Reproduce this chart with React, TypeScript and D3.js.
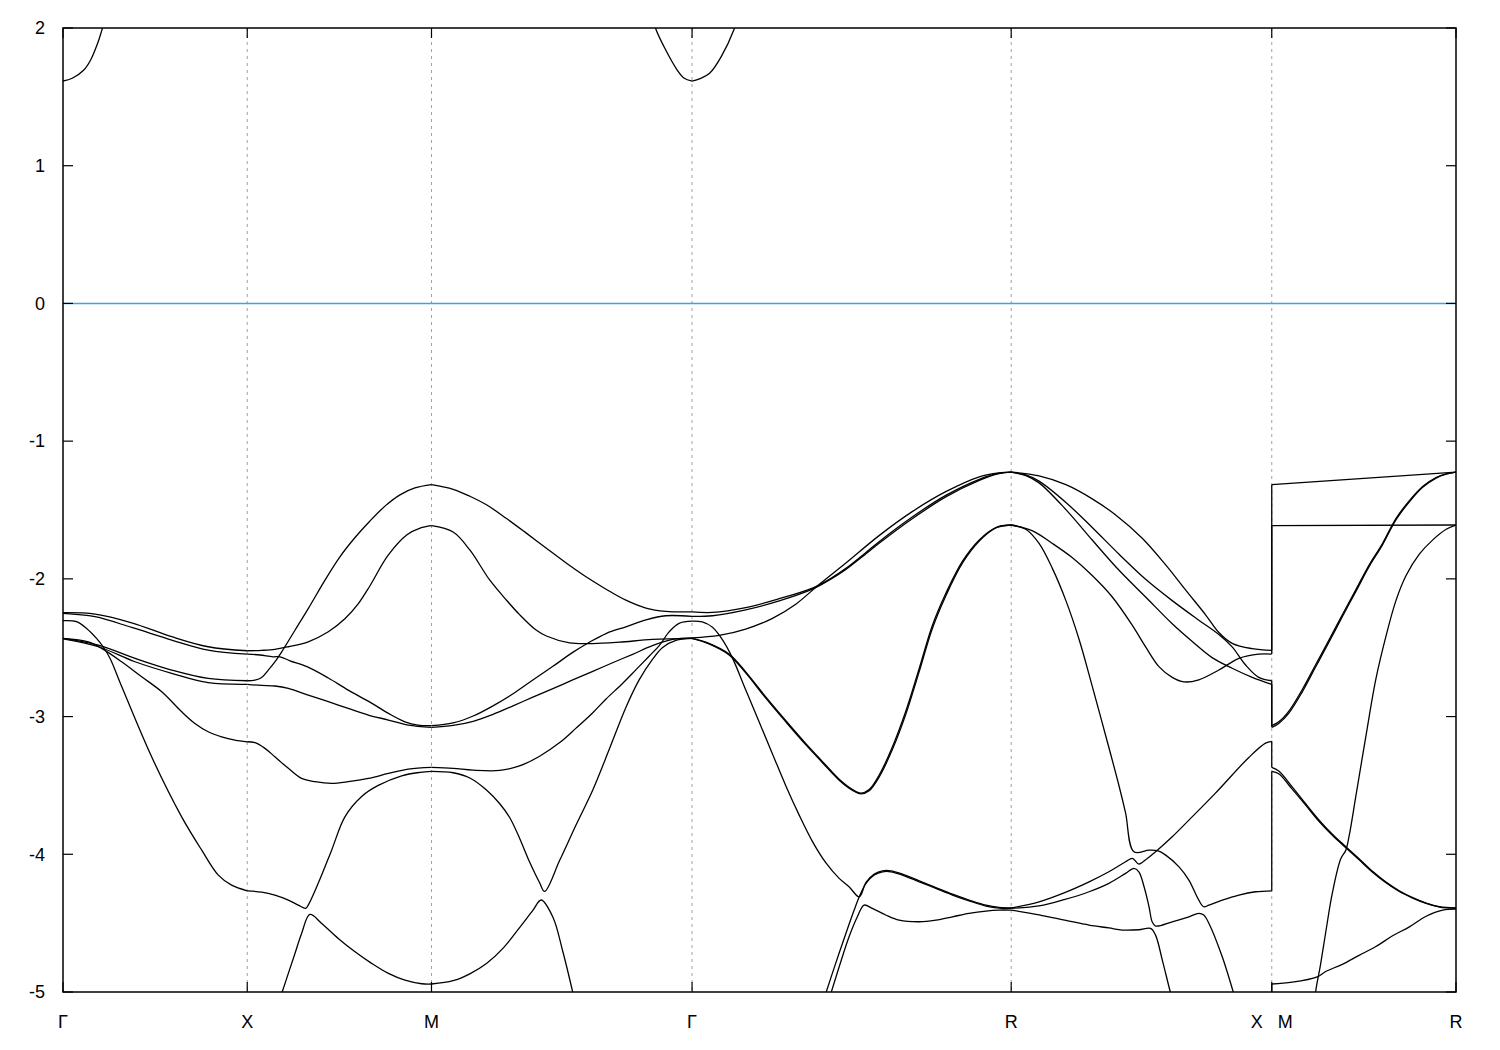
import React from 'react';
import * as d3 from 'd3';

// k-path positions of the high-symmetry points (Γ X M Γ R X|M R)
const kTicks = [0, 1, 2, 2 + Math.SQRT2, 2 + Math.SQRT2 + Math.sqrt(3), 2 + 2 * Math.SQRT2 + Math.sqrt(3), 3 + 2 * Math.SQRT2 + Math.sqrt(3)];
const kLabels = ['Γ', 'X', 'M', 'Γ', 'R', 'X   M', 'R'];
const yTicks = [2, 1, 0, -1, -2, -3, -4, -5];

// Each segment: list of bands, each band = [fraction along segment, energy (eV)]
const bandsGX = [
  [[0, -2.246], [0.174, -2.256], [0.373, -2.319], [0.59, -2.42], [0.788, -2.493], [1, -2.522]],
  [[0, -2.251], [0.174, -2.275], [0.373, -2.353], [0.59, -2.444], [0.788, -2.517], [1, -2.546]],
  [[0, -2.304], [0.073, -2.311], [0.128, -2.36], [0.182, -2.432], [0.218, -2.493], [0.255, -2.577], [0.318, -2.78], [0.481, -3.292], [0.644, -3.728], [0.753, -3.97], [0.843, -4.151], [0.915, -4.224], [1, -4.265]],
  [[0, -2.432], [0.137, -2.457], [0.21, -2.505], [0.318, -2.602], [0.427, -2.711], [0.536, -2.82], [0.644, -2.965], [0.716, -3.05], [0.788, -3.11], [0.861, -3.147], [0.933, -3.171], [1, -3.183]],
  [[0, -2.432], [0.192, -2.481], [0.391, -2.577], [0.59, -2.662], [0.788, -2.723], [1, -2.74]],
  [[0, -2.436], [0.192, -2.493], [0.391, -2.602], [0.59, -2.686], [0.788, -2.754], [1, -2.766]],
  [[0, 1.615], [0.05, 1.635], [0.113, 1.695], [0.15, 1.768], [0.188, 1.889], [0.213, 1.993], [0.225, 2.04]],
];

const bandsXM = [
  [[0, -2.522], [0.078, -2.519], [0.15, -2.512], [0.223, -2.493], [0.331, -2.457], [0.44, -2.384], [0.53, -2.29], [0.603, -2.18], [0.666, -2.05], [0.764, -1.83], [0.867, -1.68], [0.938, -1.632], [1, -1.614]],
  [[0, -2.74], [0.042, -2.735], [0.078, -2.716], [0.114, -2.663], [0.15, -2.603], [0.187, -2.53], [0.259, -2.373], [0.331, -2.216], [0.422, -2.009], [0.503, -1.84], [0.585, -1.7], [0.666, -1.58], [0.749, -1.47], [0.829, -1.39], [0.91, -1.34], [1, -1.316]],
  [[0, -2.546], [0.069, -2.553], [0.14, -2.566], [0.178, -2.566], [0.232, -2.595], [0.324, -2.638], [0.44, -2.72], [0.548, -2.808], [0.677, -2.904], [0.766, -2.977], [0.856, -3.038], [0.927, -3.062], [1, -3.066]],
  [[0, -2.766], [0.078, -2.774], [0.15, -2.778], [0.223, -2.795], [0.331, -2.844], [0.44, -2.892], [0.548, -2.941], [0.657, -2.989], [0.766, -3.025], [0.874, -3.062], [1, -3.078]],
  [[0, -3.183], [0.042, -3.19], [0.096, -3.231], [0.15, -3.292], [0.223, -3.376], [0.295, -3.449], [0.368, -3.473], [0.458, -3.485], [0.548, -3.473], [0.657, -3.449], [0.766, -3.413], [0.874, -3.381], [1, -3.369]],
  [[0, -4.265], [0.078, -4.275], [0.15, -4.297], [0.223, -4.333], [0.277, -4.369], [0.317, -4.393], [0.331, -4.369], [0.385, -4.211], [0.458, -3.97], [0.53, -3.728], [0.621, -3.58], [0.711, -3.5], [0.838, -3.43], [0.938, -3.405], [1, -3.398]],
  [[0.12, -5.28], [0.187, -5.01], [0.223, -4.865], [0.259, -4.72], [0.295, -4.575], [0.34, -4.437], [0.404, -4.502], [0.494, -4.611], [0.585, -4.708], [0.675, -4.792], [0.766, -4.865], [0.856, -4.914], [0.947, -4.94], [1, -4.942]],
];

const bandsMG = [
  [[0, -1.316], [0.083, -1.35], [0.147, -1.4], [0.211, -1.462], [0.288, -1.562], [0.364, -1.668], [0.441, -1.778], [0.517, -1.885], [0.593, -1.985], [0.67, -2.075], [0.746, -2.155], [0.823, -2.212], [0.899, -2.236], [1, -2.24]],
  [[0, -1.614], [0.083, -1.66], [0.147, -1.79], [0.224, -2.01], [0.288, -2.155], [0.338, -2.26], [0.4, -2.37], [0.441, -2.415], [0.53, -2.465], [0.619, -2.47], [0.721, -2.46], [0.848, -2.44], [1, -2.432]],
  [[0, -3.066], [0.083, -3.046], [0.16, -2.996], [0.236, -2.922], [0.313, -2.834], [0.389, -2.734], [0.466, -2.635], [0.542, -2.534], [0.606, -2.46], [0.67, -2.397], [0.746, -2.348], [0.823, -2.298], [0.899, -2.268], [1, -2.273]],
  [[0, -3.078], [0.083, -3.064], [0.16, -3.034], [0.236, -2.984], [0.313, -2.922], [0.389, -2.859], [0.466, -2.797], [0.542, -2.734], [0.619, -2.672], [0.695, -2.609], [0.772, -2.548], [0.848, -2.485], [0.925, -2.44], [1, -2.428]],
  [[0, -3.369], [0.083, -3.376], [0.16, -3.389], [0.262, -3.391], [0.338, -3.358], [0.415, -3.288], [0.492, -3.189], [0.555, -3.084], [0.619, -2.972], [0.67, -2.872], [0.733, -2.76], [0.785, -2.659], [0.836, -2.56], [0.874, -2.485], [0.912, -2.385], [0.95, -2.323], [1, -2.307]],
  [[0, -3.398], [0.083, -3.408], [0.147, -3.446], [0.211, -3.533], [0.262, -3.633], [0.3, -3.733], [0.338, -3.883], [0.377, -4.058], [0.415, -4.207], [0.434, -4.27], [0.492, -4.044], [0.556, -3.782], [0.619, -3.533], [0.683, -3.234], [0.746, -2.934], [0.797, -2.734], [0.848, -2.585], [0.887, -2.498], [0.938, -2.447], [1, -2.432]],
  [[0, -4.942], [0.083, -4.918], [0.147, -4.868], [0.211, -4.793], [0.275, -4.681], [0.338, -4.532], [0.389, -4.407], [0.421, -4.332], [0.466, -4.457], [0.504, -4.706], [0.542, -5.001], [0.556, -5.12]],
  [[0.855, 2.04], [0.861, 1.993], [0.899, 1.84], [0.943, 1.695], [0.97, 1.635], [1, 1.615]],
];

const bandsGR = [
  [[0, -2.24], [0.064, -2.244], [0.168, -2.209], [0.273, -2.144], [0.377, -2.067], [0.44, -1.989], [0.482, -1.924], [0.545, -1.808], [0.586, -1.73], [0.691, -1.549], [0.795, -1.394], [0.9, -1.277], [0.962, -1.233], [1, -1.225]],
  [[0, -2.273], [0.064, -2.268], [0.168, -2.225], [0.273, -2.16], [0.377, -2.075], [0.44, -1.995], [0.482, -1.932], [0.545, -1.818], [0.586, -1.742], [0.691, -1.562], [0.795, -1.405], [0.9, -1.285], [0.962, -1.236], [1, -1.225]],
  [[0, -2.429], [0.085, -2.411], [0.168, -2.365], [0.252, -2.287], [0.325, -2.184], [0.398, -2.041], [0.482, -1.885], [0.586, -1.686], [0.691, -1.51], [0.795, -1.367], [0.9, -1.259], [0.962, -1.23], [1, -1.225]],
  [[0, -2.307], [0.032, -2.313], [0.064, -2.352], [0.095, -2.442], [0.126, -2.572], [0.168, -2.805], [0.21, -3.038], [0.252, -3.271], [0.294, -3.504], [0.335, -3.712], [0.377, -3.906], [0.419, -4.061], [0.461, -4.175], [0.492, -4.236], [0.524, -4.309], [0.545, -4.204], [0.571, -4.144], [0.597, -4.12], [0.623, -4.12], [0.659, -4.144], [0.712, -4.193], [0.764, -4.242], [0.816, -4.29], [0.868, -4.332], [0.921, -4.37], [0.962, -4.386], [1, -4.39]],
  [[0.4, -5.15], [0.419, -5.01], [0.45, -4.792], [0.482, -4.575], [0.508, -4.405], [0.524, -4.309], [0.545, -4.211], [0.571, -4.151], [0.597, -4.127], [0.623, -4.127], [0.659, -4.151], [0.712, -4.2], [0.764, -4.248], [0.816, -4.296], [0.868, -4.338], [0.921, -4.376], [0.962, -4.391], [1, -4.392]],
  [[0.415, -5.15], [0.435, -5.01], [0.461, -4.817], [0.492, -4.599], [0.518, -4.454], [0.539, -4.369], [0.565, -4.393], [0.607, -4.441], [0.649, -4.478], [0.712, -4.49], [0.764, -4.478], [0.816, -4.454], [0.868, -4.429], [0.921, -4.412], [0.962, -4.405], [1, -4.405]],
  [[0, -2.432], [0.053, -2.468], [0.116, -2.546], [0.168, -2.675], [0.231, -2.857], [0.294, -3.03], [0.356, -3.195], [0.408, -3.325], [0.461, -3.455], [0.503, -3.53], [0.529, -3.556], [0.555, -3.53], [0.586, -3.426], [0.628, -3.219], [0.67, -2.96], [0.712, -2.649], [0.753, -2.338], [0.795, -2.106], [0.847, -1.873], [0.9, -1.717], [0.952, -1.627], [1, -1.609]],
  [[0, -2.432], [0.053, -2.472], [0.116, -2.552], [0.168, -2.683], [0.231, -2.866], [0.294, -3.039], [0.356, -3.204], [0.408, -3.333], [0.461, -3.462], [0.503, -3.536], [0.529, -3.561], [0.555, -3.538], [0.586, -3.44], [0.628, -3.238], [0.67, -2.982], [0.712, -2.672], [0.753, -2.36], [0.795, -2.124], [0.847, -1.886], [0.9, -1.725], [0.952, -1.63], [1, -1.609]],
  [[0, 1.615], [0.025, 1.632], [0.055, 1.671], [0.091, 1.79], [0.132, 1.993], [0.138, 2.04]],
];

const bandsRX = [
  [[0, -1.225], [0.107, -1.252], [0.21, -1.316], [0.311, -1.419], [0.401, -1.536], [0.503, -1.705], [0.593, -1.899], [0.669, -2.08], [0.746, -2.261], [0.797, -2.39], [0.848, -2.468], [0.925, -2.507], [1, -2.52]],
  [[0, -1.225], [0.056, -1.245], [0.107, -1.29], [0.21, -1.445], [0.311, -1.627], [0.414, -1.821], [0.516, -2.003], [0.618, -2.158], [0.72, -2.3], [0.797, -2.404], [0.848, -2.494], [0.899, -2.624], [0.95, -2.715], [1, -2.74]],
  [[0, -1.225], [0.056, -1.25], [0.107, -1.303], [0.21, -1.497], [0.311, -1.718], [0.414, -1.938], [0.516, -2.132], [0.618, -2.326], [0.695, -2.455], [0.771, -2.572], [0.848, -2.649], [0.925, -2.715], [1, -2.766]],
  [[0, -1.609], [0.082, -1.652], [0.158, -1.743], [0.235, -1.847], [0.311, -1.976], [0.388, -2.132], [0.465, -2.338], [0.516, -2.494], [0.567, -2.637], [0.618, -2.715], [0.663, -2.748], [0.72, -2.733], [0.797, -2.662], [0.874, -2.577], [0.95, -2.546], [1, -2.546]],
  [[0, -1.609], [0.056, -1.64], [0.107, -1.743], [0.158, -1.924], [0.21, -2.158], [0.261, -2.442], [0.311, -2.779], [0.363, -3.141], [0.414, -3.504], [0.439, -3.7], [0.471, -3.982], [0.529, -3.97], [0.561, -3.974], [0.593, -4.006], [0.644, -4.091], [0.682, -4.187], [0.72, -4.333], [0.739, -4.381], [0.759, -4.369], [0.81, -4.333], [0.874, -4.296], [0.938, -4.272], [1, -4.265]],
  [[0, -4.39], [0.107, -4.345], [0.203, -4.28], [0.299, -4.2], [0.375, -4.127], [0.439, -4.054], [0.465, -4.03], [0.49, -4.071], [0.522, -4.03], [0.561, -3.97], [0.618, -3.873], [0.682, -3.752], [0.784, -3.556], [0.912, -3.297], [0.976, -3.193], [1, -3.18]],
  [[0, -4.392], [0.107, -4.375], [0.203, -4.33], [0.299, -4.272], [0.375, -4.211], [0.439, -4.139], [0.471, -4.102], [0.49, -4.127], [0.51, -4.236], [0.529, -4.381], [0.541, -4.49], [0.554, -4.521], [0.618, -4.49], [0.682, -4.454], [0.72, -4.429], [0.739, -4.441], [0.759, -4.502], [0.81, -4.744], [0.854, -5.01], [0.9, -5.3]],
  [[0, -4.405], [0.107, -4.44], [0.21, -4.48], [0.299, -4.514], [0.375, -4.535], [0.426, -4.55], [0.49, -4.548], [0.535, -4.538], [0.554, -4.587], [0.58, -4.768], [0.612, -5.01], [0.64, -5.2]],
];

const bandsMR = [
  [[0, -1.316], [1, -1.225]],
  [[0, -1.614], [1, -1.609]],
  [[0, -3.066], [0.038, -3.038], [0.093, -2.96], [0.165, -2.805], [0.238, -2.624], [0.311, -2.442], [0.383, -2.261], [0.456, -2.08], [0.529, -1.898], [0.601, -1.743], [0.674, -1.562], [0.747, -1.432], [0.819, -1.329], [0.892, -1.264], [0.947, -1.238], [1, -1.225]],
  [[0, -3.078], [0.038, -3.05], [0.093, -2.975], [0.165, -2.822], [0.238, -2.64], [0.311, -2.458], [0.383, -2.275], [0.456, -2.093], [0.529, -1.91], [0.601, -1.753], [0.674, -1.572], [0.747, -1.44], [0.819, -1.335], [0.892, -1.268], [0.947, -1.24], [1, -1.225]],
  [[0, -3.369], [0.038, -3.395], [0.111, -3.51], [0.184, -3.633], [0.256, -3.75], [0.329, -3.854], [0.402, -3.945], [0.474, -4.033], [0.547, -4.124], [0.62, -4.202], [0.692, -4.265], [0.765, -4.315], [0.838, -4.354], [0.91, -4.38], [1, -4.39]],
  [[0, -3.398], [0.038, -3.415], [0.111, -3.527], [0.184, -3.643], [0.256, -3.76], [0.329, -3.862], [0.402, -3.952], [0.474, -4.04], [0.547, -4.13], [0.62, -4.207], [0.692, -4.27], [0.765, -4.318], [0.838, -4.357], [0.91, -4.383], [1, -4.392]],
  [[0, -4.942], [0.111, -4.929], [0.247, -4.89], [0.293, -4.851], [0.383, -4.799], [0.474, -4.734], [0.565, -4.67], [0.656, -4.592], [0.747, -4.527], [0.838, -4.45], [0.928, -4.405], [1, -4.398]],
  [[0.225, -5.2], [0.238, -5.0], [0.265, -4.799], [0.293, -4.566], [0.329, -4.281], [0.374, -4.035], [0.402, -3.97], [0.42, -3.867], [0.456, -3.582], [0.511, -3.142], [0.565, -2.728], [0.62, -2.416], [0.674, -2.158], [0.729, -1.976], [0.801, -1.821], [0.874, -1.717], [0.947, -1.64], [1, -1.609]],
];

// band values at X joined to the same bands at M (same k position)
const jumpsXM = [[-2.52, -1.316], [-2.546, -1.614], [-2.74, -3.066], [-2.766, -3.078], [-3.18, -3.369], [-4.265, -3.398], [-5.4, -4.942]];

const segments = [bandsGX, bandsXM, bandsMG, bandsGR, bandsRX, bandsMR];

export default function App() {
  const W = 1500, H = 1050;
  const left = 63, right = 1456, top = 28, bottom = 992;
  const x = d3.scaleLinear().domain([0, kTicks[kTicks.length - 1]]).range([left, right]);
  const y = d3.scaleLinear().domain([-5, 2]).range([bottom, top]);
  const line = d3.line<number[]>().x(d => d[0]).y(d => d[1]).curve(d3.curveCatmullRom.alpha(0.5));
  const font = "'Liberation Sans', Arial, Helvetica, sans-serif";

  const paths: React.ReactNode[] = [];
  segments.forEach((seg, i) => {
    const k0 = kTicks[i], k1 = kTicks[i + 1];
    seg.forEach((pts, j) => {
      const p = pts.map(([t, e]) => [x(k0 + t * (k1 - k0)), y(e)]);
      paths.push(<path key={`b${i}-${j}`} d={line(p) || ''} />);
    });
  });
  const xj = x(kTicks[5]);
  jumpsXM.forEach(([a, b], j) => {
    paths.push(<line key={`j${j}`} x1={xj} x2={xj} y1={y(a)} y2={y(b)} />);
  });

  return (
    <svg width={W} height={H} style={{ position: 'absolute', left: 0, top: 0, background: '#fff' }}>
      <defs>
        <clipPath id="plotclip">
          <rect x={left} y={top} width={right - left} height={bottom - top} />
        </clipPath>
      </defs>
      <rect x={0} y={0} width={W} height={H} fill="#fff" />
      {/* grid */}
      <g stroke="#a0a0a0" strokeWidth={1} strokeDasharray="3,4">
        {kTicks.slice(1, -1).map((k, i) => (
          <line key={i} x1={x(k)} x2={x(k)} y1={top} y2={bottom} />
        ))}
      </g>
      {/* Fermi level */}
      <line x1={left} x2={right} y1={y(0)} y2={y(0)} stroke="#3aa6e0" strokeWidth={1.5} />
      {/* bands */}
      <g clipPath="url(#plotclip)" fill="none" stroke="#000" strokeWidth={1.3} strokeLinejoin="round">
        {paths}
      </g>
      {/* ticks */}
      <g stroke="#000" strokeWidth={1.2}>
        {yTicks.map(v => (
          <g key={v}>
            <line x1={left} x2={left + 10} y1={y(v)} y2={y(v)} />
            <line x1={right} x2={right - 10} y1={y(v)} y2={y(v)} />
          </g>
        ))}
        {kTicks.map((k, i) => (
          <g key={i}>
            <line x1={x(k)} x2={x(k)} y1={bottom} y2={bottom - 10} />
            <line x1={x(k)} x2={x(k)} y1={top} y2={top + 10} />
          </g>
        ))}
      </g>
      {/* border */}
      <rect x={left} y={top} width={right - left} height={bottom - top} fill="none" stroke="#000" strokeWidth={1.5} />
      {/* labels */}
      <g fontFamily={font} fontSize={18} fill="#000">
        {yTicks.map(v => (
          <text key={v} x={45} y={y(v)} dy="0.35em" textAnchor="end">{v}</text>
        ))}
        {kTicks.map((k, i) => (
          <text key={i} x={x(k)} y={1028} textAnchor="middle" style={{ whiteSpace: 'pre' }}>{kLabels[i]}</text>
        ))}
      </g>
    </svg>
  );
}
